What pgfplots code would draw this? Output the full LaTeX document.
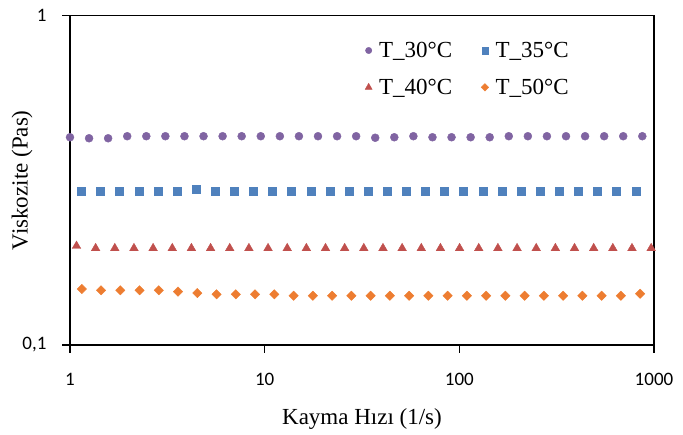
\documentclass[border=0pt]{standalone}
\usepackage{fontspec}
\usepackage{pgfplots}
\pgfplotsset{compat=1.18}
\setmainfont{Liberation Serif}
\newfontfamily\calib{Carlito}
\definecolor{cpurple}{HTML}{8064A2}
\definecolor{cblue}{HTML}{4F81BD}
\definecolor{cred}{HTML}{C0504D}
\definecolor{corange}{HTML}{ED7D31}
\begin{document}
\begin{tikzpicture}
\begin{axis}[
  scale only axis,
  width=584pt, height=329.5pt,
  xmode=log, ymode=log,
  xmin=1, xmax=1000, ymin=0.1, ymax=1,
  xtick={1,10,100,1000}, xticklabels={1,10,100,1000},
  ytick={0.1,1}, yticklabels={{0,1},1},
  minor tick num=0,
  log ticks with fixed point,
  tick pos=left, tick align=outside,
  major tick length=8pt,
  every tick/.style={black, line width=1.3pt},
  minor x tick style={draw=none}, minor y tick style={draw=none},
  axis line style={line width=1.3pt},
  tick label style={font=\calib\fontsize{19}{19}\selectfont},
  xticklabel style={anchor=base, yshift=-33pt},
  yticklabel style={anchor=east, xshift=-12pt},
  xlabel={Kayma Hızı (1/s)}, ylabel={Viskozite (Pas)},
  every axis x label/.style={at={(rel axis cs:0.5,0)}, anchor=base, yshift=-79pt, font=\fontsize{23}{23}\selectfont},
  every axis y label/.style={at={(rel axis cs:0,0.5)}, anchor=center, rotate=90, yshift=48pt, font=\fontsize{23}{23}\selectfont},
  legend columns=2,
  legend style={at={(rel axis cs:0.5,0.932)}, anchor=north west, draw=none, fill=none,
    font=\fontsize{23}{23}\selectfont, row sep=16pt,
    /tikz/every odd column/.append style={column sep=5pt},
    /tikz/every even column/.append style={column sep=27pt}},
  legend cell align=left,
  legend image code/.code={\draw[every mark/.append style={scale=0.8}] plot coordinates {(0cm,0cm)};},
]
\addplot[only marks, mark=*, mark size=4pt, color=cpurple] coordinates {
(1,0.4271) (1.253,0.4241) (1.570,0.4241) (1.968,0.4302) (2.466,0.4302) (3.090,0.4302)
(3.873,0.4302) (4.853,0.4302) (6.081,0.4302) (7.621,0.4302) (9.550,0.4302) (11.97,0.4302)
(15.00,0.4302) (18.79,0.4302) (23.55,0.4302) (29.51,0.4302) (36.98,0.4256) (46.34,0.4271)
(58.08,0.4302) (72.78,0.4271) (91.20,0.4271) (114.3,0.4271) (143.2,0.4271) (179.5,0.4302)
(224.9,0.4302) (281.8,0.4302) (353.2,0.4302) (442.6,0.4302) (554.6,0.4302) (695.0,0.4302)
(871.0,0.4302)};
\addlegendentry{T\_30°C}
\addplot[only marks, mark=square*, mark size=4pt, color=cblue] coordinates {
(1.144,0.2939) (1.435,0.2939) (1.798,0.2939) (2.255,0.2939) (2.827,0.2939) (3.544,0.2939)
(4.443,0.2974) (5.570,0.2939) (6.985,0.2939) (8.758,0.2939) (10.98,0.2939) (13.76,0.2939)
(17.26,0.2939) (21.64,0.2939) (27.13,0.2939) (34.01,0.2939) (42.64,0.2939) (53.46,0.2939)
(67.01,0.2939) (84.03,0.2939) (105.3,0.2939) (132.1,0.2939) (165.6,0.2939) (207.6,0.2939)
(260.3,0.2939) (326.3,0.2939) (409.1,0.2939) (512.9,0.2939) (642.9,0.2939) (806.1,0.2939)};
\addlegendentry{T\_35°C}
\addplot[only marks, mark=triangle*, mark size=5pt, color=cred] coordinates {
(1.080,0.1998) (1.354,0.1966) (1.699,0.1966) (2.131,0.1966) (2.673,0.1966) (3.353,0.1966)
(4.205,0.1966) (5.275,0.1966) (6.616,0.1966) (8.299,0.1966) (10.41,0.1966) (13.06,0.1966)
(16.38,0.1966) (20.54,0.1966) (25.76,0.1966) (32.31,0.1966) (40.53,0.1966) (50.84,0.1966)
(63.77,0.1966) (79.98,0.1966) (100.3,0.1966) (125.8,0.1966) (157.8,0.1966) (198.0,0.1966)
(248.3,0.1966) (311.5,0.1966) (390.7,0.1966) (490.0,0.1966) (614.6,0.1966) (770.9,0.1966)
(967.0,0.1966)};
\addlegendentry{T\_40°C}
\addplot[only marks, mark=square*, mark size=3.3pt, mark options={rotate=45}, color=corange] coordinates {
(1.150,0.1479) (1.444,0.1466) (1.813,0.1466) (2.277,0.1466) (2.859,0.1466) (3.590,0.1452)
(4.508,0.1438) (5.661,0.1425) (7.109,0.1425) (8.927,0.1425) (11.21,0.1425) (14.08,0.1411)
(17.68,0.1411) (22.20,0.1411) (27.88,0.1411) (35.01,0.1411) (43.95,0.1411) (55.20,0.1411)
(69.31,0.1411) (87.03,0.1411) (109.3,0.1411) (137.3,0.1411) (172.4,0.1411) (216.4,0.1411)
(271.8,0.1411) (341.3,0.1411) (428.5,0.1411) (538.1,0.1411) (675.7,0.1411) (848.5,0.1431)};
\addlegendentry{T\_50°C}
\coordinate (bl) at (rel axis cs:0,0);
\end{axis}
\pgfresetboundingbox
\path (bl) ++(-70pt,-89pt) rectangle ++(683pt,434pt);
\end{tikzpicture}
\end{document}
